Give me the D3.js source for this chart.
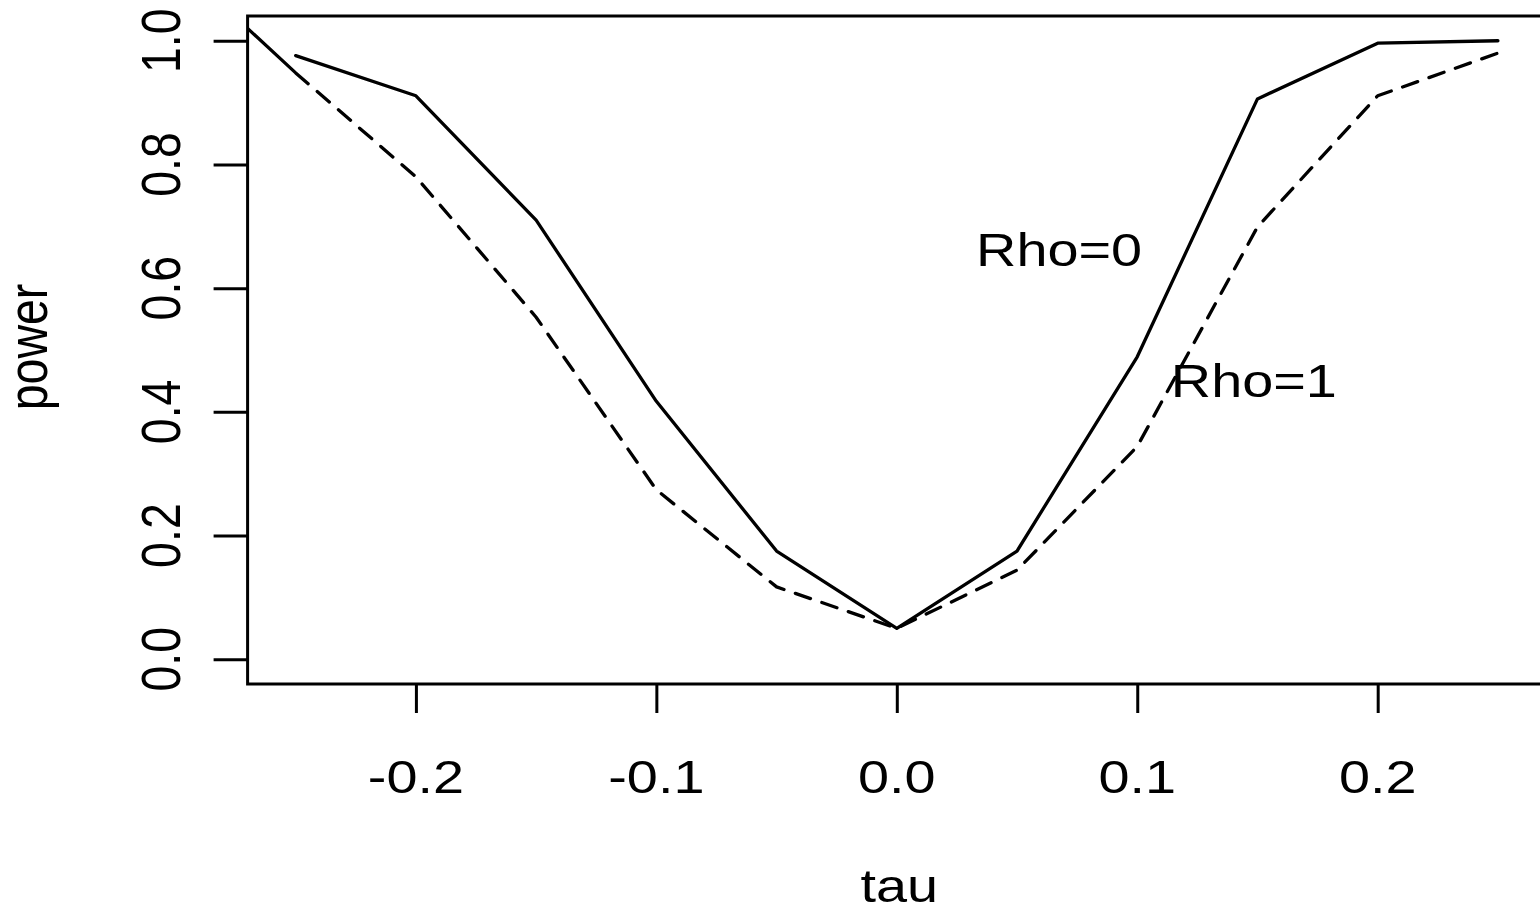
<!DOCTYPE html>
<html>
<head>
<meta charset="utf-8">
<script src="https://cdn.jsdelivr.net/npm/d3@7"></script>
<style>
  html, body { margin: 0; padding: 0; background: #fff; }
  svg { display: block; }
  text { font-family: "Liberation Sans", Arial, Helvetica, sans-serif; fill: #000; }
</style>
</head>
<body>
<svg id="chart" width="1540" height="909"></svg>
<script>
// ---- data ----
const tauRho0   = [-0.25, -0.2, -0.15, -0.1, -0.05, 0.0, 0.05, 0.1, 0.15, 0.2, 0.25];
const powerRho0 = [0.976, 0.911, 0.710, 0.417, 0.175, 0.050, 0.175, 0.489, 0.906, 0.996, 1.000];
const tauRho1   = [-0.27, -0.25, -0.2, -0.15, -0.1, -0.05, 0.0, 0.05, 0.1, 0.15, 0.2, 0.25];
const powerRho1 = [1.020, 0.948, 0.780, 0.553, 0.274, 0.117, 0.050, 0.144, 0.344, 0.699, 0.911, 0.980];
const xTickValues = [-0.2, -0.1, 0.0, 0.1, 0.2];
const xTickLabels = ["-0.2", "-0.1", "0.0", "0.1", "0.2"];
const yTickValues = [0.0, 0.2, 0.4, 0.6, 0.8, 1.0];
const yTickLabels = ["0.0", "0.2", "0.4", "0.6", "0.8", "1.0"];
const annotations = [
  { label: "Rho=0", tau: 0.0675, power: 0.663 },
  { label: "Rho=1", tau: 0.1485, power: 0.452 }
];
const xTitle = "tau";
const yTitle = "power";

// ---- layout ----
(function () {
const svg = d3.select("#chart");
svg.append("rect").attr("width", 1540).attr("height", 909).attr("fill", "#fff");

const pLeft = 247.6, pRight = 1546, pTop = 16, pBottom = 684;
const x = d3.scaleLinear().domain([-0.27, 0.27]).range([pLeft, pRight]);
const y = d3.scaleLinear().domain([-0.04, 1.04]).range([pBottom, pTop]);

const FS = 46.5, SX = 1.2;

svg.append("clipPath").attr("id", "plotclip")
  .append("rect").attr("x", pLeft).attr("y", pTop)
  .attr("width", pRight - pLeft).attr("height", pBottom - pTop);

const lineGen = d3.line().x(d => x(d[0])).y(d => y(d[1]));
const g = svg.append("g").attr("clip-path", "url(#plotclip)");

// solid line (Rho=0)
g.append("path")
  .datum(d3.zip(tauRho0, powerRho0))
  .attr("d", lineGen)
  .attr("fill", "none").attr("stroke", "#000")
  .attr("stroke-width", 3.3).attr("stroke-linejoin", "round").attr("stroke-linecap", "round");

// dashed line (Rho=1)
const dashed = g.append("path")
  .datum(d3.zip(tauRho1, powerRho1))
  .attr("d", lineGen)
  .attr("fill", "none").attr("stroke", "#000")
  .attr("stroke-width", 3.3).attr("stroke-linejoin", "round").attr("stroke-linecap", "round");
const totalLen = dashed.node().getTotalLength();
const dashArr = [82, 12];
let acc = 94;
while (acc < totalLen + 60) { dashArr.push(16, 12); acc += 28; }
dashed.attr("stroke-dasharray", dashArr.join(","));

// box
svg.append("rect")
  .attr("x", pLeft).attr("y", pTop)
  .attr("width", pRight - pLeft).attr("height", pBottom - pTop)
  .attr("fill", "none").attr("stroke", "#000").attr("stroke-width", 3);

// x axis
const xAxis = svg.append("g").attr("transform", `translate(0,${pBottom})`)
  .call(d3.axisBottom(x).tickValues(xTickValues).tickSize(29).tickFormat(() => ""));
xAxis.select(".domain").remove();
xAxis.selectAll(".tick line").attr("stroke", "#000").attr("stroke-width", 3);
xAxis.selectAll(".tick text").remove();
xTickValues.forEach((v, i) => {
  svg.append("text")
    .attr("transform", `translate(${x(v)},793) scale(${SX},1)`)
    .attr("text-anchor", "middle").attr("font-size", FS)
    .text(xTickLabels[i]);
});

// y axis
const yAxis = svg.append("g").attr("transform", `translate(${pLeft},0)`)
  .call(d3.axisLeft(y).tickValues(yTickValues).tickSize(34).tickFormat(() => ""));
yAxis.select(".domain").remove();
yAxis.selectAll(".tick line").attr("stroke", "#000").attr("stroke-width", 3);
yAxis.selectAll(".tick text").remove();
yTickValues.forEach((v, i) => {
  svg.append("text")
    .attr("transform", `translate(180,${y(v)}) scale(${SX},1) rotate(-90)`)
    .attr("text-anchor", "middle").attr("font-size", FS)
    .text(yTickLabels[i]);
});

// axis titles
svg.append("text")
  .attr("transform", `translate(${x(0.001)},902) scale(${SX},1)`)
  .attr("text-anchor", "middle").attr("font-size", FS)
  .text(xTitle);
svg.append("text")
  .attr("transform", `translate(47,347) scale(${SX},1) rotate(-90)`)
  .attr("text-anchor", "middle").attr("font-size", FS)
  .text(yTitle);

// annotations
annotations.forEach(a => {
  svg.append("text")
    .attr("transform", `translate(${x(a.tau)},${y(a.power) + 17}) scale(${SX},1)`)
    .attr("text-anchor", "middle").attr("font-size", FS)
    .text(a.label);
});
})();
</script>
</body>
</html>
